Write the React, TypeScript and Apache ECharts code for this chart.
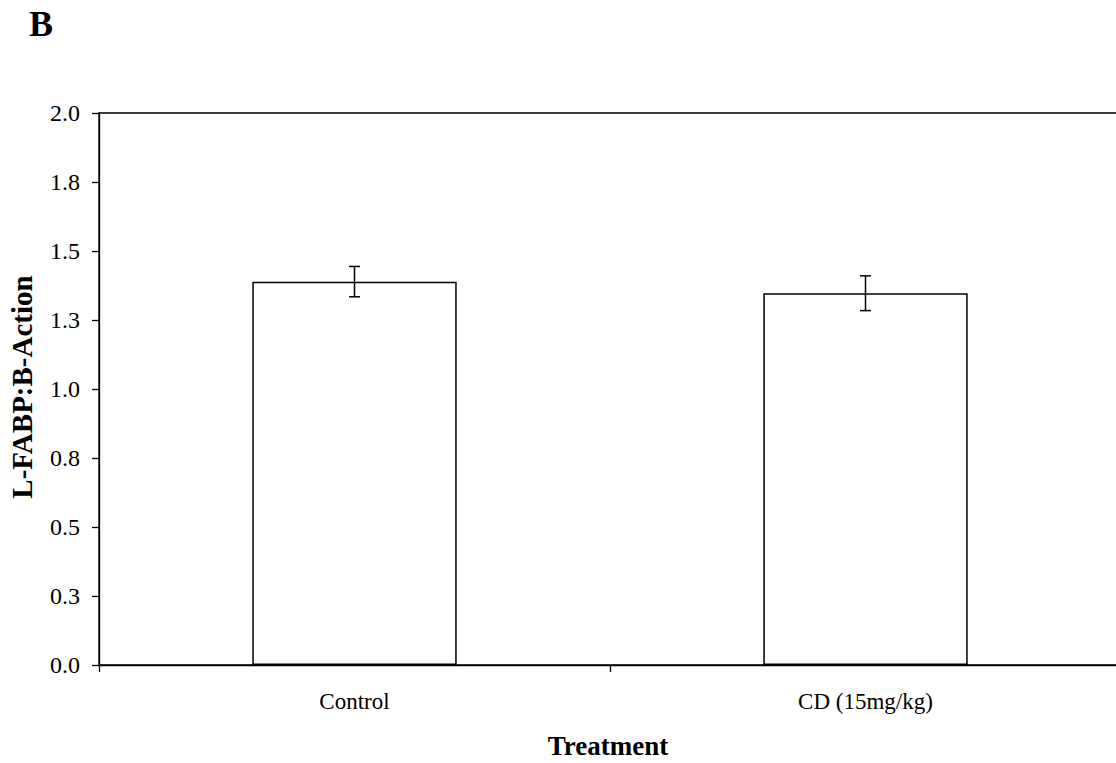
import React, { useEffect, useRef } from "react";
import * as echarts from "echarts";

const categories = ["Control", "CD (15mg/kg)"];
const means = [1.389, 1.347];
const errors = [0.055, 0.063];
const yTicks = { min: 0, max: 2, interval: 0.25 };

const FONT = "'Liberation Serif', 'Times New Roman', serif";

export default function App() {
  const ref = useRef<HTMLDivElement>(null);
  useEffect(() => {
    if (!ref.current) return;
    const chart = echarts.init(ref.current, null, { renderer: "svg" });
    const errData = categories.map((c, i) => [i, means[i] - errors[i], means[i] + errors[i]]);
    chart.setOption({
      animation: false,
      backgroundColor: "#fff",
      grid: {
        left: 99,
        top: 113,
        width: 1022,
        height: 552,
        show: true,
        borderColor: "#000",
        borderWidth: 1.3,
        backgroundColor: "transparent",
      },
      xAxis: {
        type: "category",
        data: categories,
        boundaryGap: true,
        axisLine: { lineStyle: { color: "#000", width: 1.3 } },
        axisTick: { show: true, length: 7, lineStyle: { color: "#000", width: 1.3 } },
        axisLabel: { color: "#000", fontFamily: FONT, fontSize: 23, margin: 25 },
        splitLine: { show: false },
      },
      yAxis: {
        type: "value",
        min: yTicks.min,
        max: yTicks.max,
        interval: yTicks.interval,
        axisLine: { show: true, lineStyle: { color: "#000", width: 1.3 } },
        axisTick: { show: true, length: 7, lineStyle: { color: "#000", width: 1.3 } },
        axisLabel: {
          color: "#000",
          fontFamily: FONT,
          fontSize: 24,
          margin: 19,
          formatter: (v: number) => v.toFixed(1),
        },
        splitLine: { show: false },
      },
      graphic: [
        {
          type: "text",
          x: 41,
          y: 24,
          style: {
            text: "B",
            fontFamily: FONT,
            fontWeight: "bold",
            fontSize: 36,
            fill: "#000",
            align: "center",
            verticalAlign: "middle",
          },
        },
        {
          type: "text",
          x: 22,
          y: 387,
          rotation: Math.PI / 2,
          style: {
            text: "L-FABP:B-Action",
            fontFamily: FONT,
            fontWeight: "bold",
            fontSize: 29,
            fill: "#000",
            align: "center",
            verticalAlign: "middle",
          },
        },
        {
          type: "text",
          x: 608,
          y: 746,
          style: {
            text: "Treatment",
            fontFamily: FONT,
            fontWeight: "bold",
            fontSize: 27,
            fill: "#000",
            align: "center",
            verticalAlign: "middle",
          },
        },
      ],
      series: [
        {
          type: "bar",
          data: means,
          barWidth: "40%",
          itemStyle: { color: "#fff", borderColor: "#000", borderWidth: 1.5 },
          z: 2,
        },
        {
          type: "custom",
          data: errData,
          z: 3,
          renderItem: (params: any, api: any) => {
            const x = api.value(0);
            const lo = api.coord([x, api.value(1)]);
            const hi = api.coord([x, api.value(2)]);
            const cap = 5.5;
            const style = { stroke: "#000", lineWidth: 1.5 };
            return {
              type: "group",
              children: [
                { type: "line", shape: { x1: hi[0], y1: hi[1], x2: lo[0], y2: lo[1] }, style },
                { type: "line", shape: { x1: hi[0] - cap, y1: hi[1], x2: hi[0] + cap, y2: hi[1] }, style },
                { type: "line", shape: { x1: lo[0] - cap, y1: lo[1], x2: lo[0] + cap, y2: lo[1] }, style },
              ],
            };
          },
        },
      ],
    });
    return () => chart.dispose();
  }, []);
  return (
    <div
      style={{
        position: "fixed",
        left: 0,
        top: 0,
        width: 1116,
        height: 763,
        overflow: "hidden",
        background: "#fff",
      }}
    >
      <div ref={ref} style={{ width: 1130, height: 763 }} />
    </div>
  );
}
